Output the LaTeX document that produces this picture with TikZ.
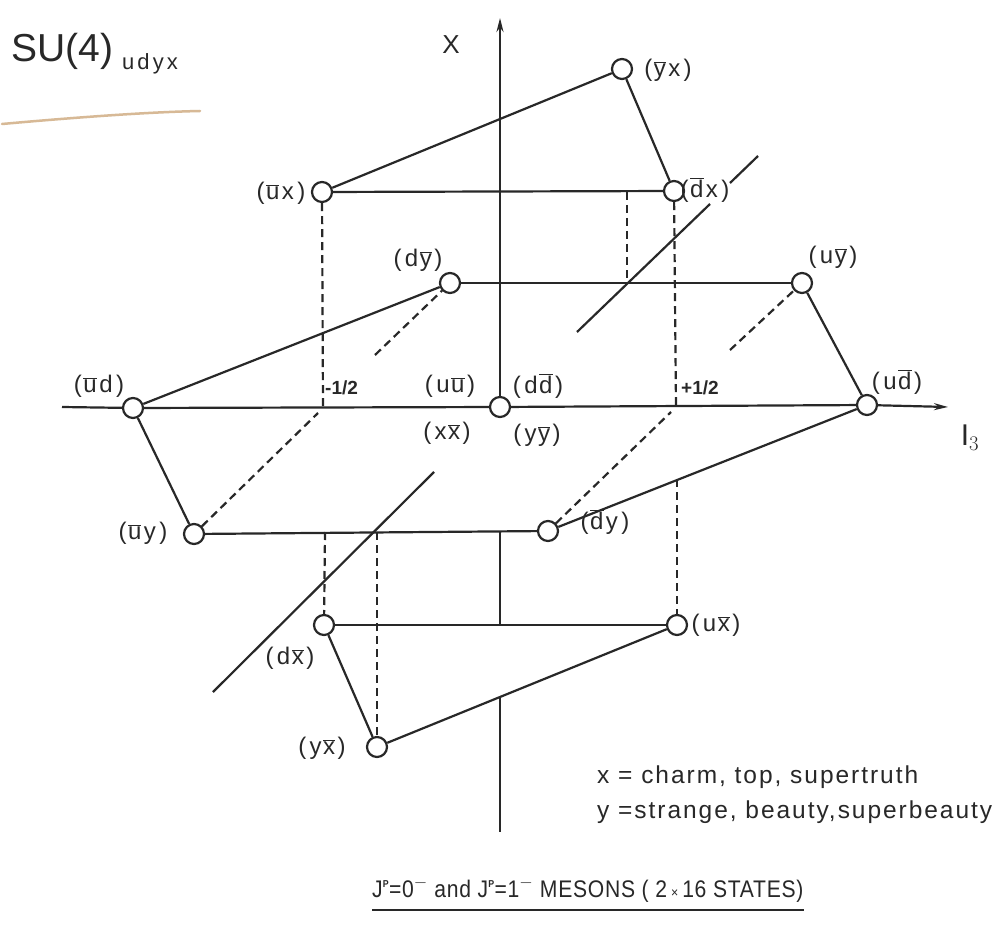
\documentclass[tikz,border=0pt]{standalone}
\usepackage{fontspec}
\setmainfont{Liberation Sans}
\newfontfamily\labfont{Liberation Sans}[LetterSpace=14]
\newfontfamily\legfont{Liberation Sans}[LetterSpace=8]
\newfontfamily\capfont{Liberation Sans}[LetterSpace=3,FakeStretch=0.88]
\usetikzlibrary{arrows.meta}
\newcommand\ob[1]{\kern1.5pt\ensuremath{\overline{\mbox{#1}}}\kern2.5pt}
\definecolor{ink}{RGB}{40,40,40}
\definecolor{pencil}{RGB}{215,185,150}
\begin{document}
\begin{tikzpicture}[x=1pt,y=-1pt,
  pt/.style={circle,draw=ink,line width=2.2pt,minimum size=20pt,inner sep=0pt},
  ln/.style={draw=ink,line width=2.2pt},
  hid/.style={draw=ink,line width=2.2pt,dash pattern=on 8pt off 5pt},
  lab/.style={inner sep=0pt,text=ink,font=\labfont\fontsize{24}{26}\selectfont},
  half/.style={inner sep=0pt,text=ink,font=\bfseries\fontsize{19}{21}\selectfont,anchor=west},
  leg/.style={inner sep=0pt,text=ink,font=\legfont\fontsize{24.5}{27}\selectfont,anchor=base west},
  axarrow/.style={draw=ink,line width=2.2pt,-{Stealth[length=14pt,width=7pt]}}
]
\useasboundingbox (0,0) rectangle (995,925);
\fill[white] (0,0) rectangle (995,925);

% states
\node[pt] (yx)  at (622,69)  {};
\node[pt] (ux)  at (322,192) {};
\node[pt] (dx)  at (674,191) {};
\node[pt] (dy)  at (450,283) {};
\node[pt] (uy)  at (802,283) {};
\node[pt] (ubd) at (133,408) {};
\node[pt] (c)   at (500,407) {};
\node[pt] (udb) at (867,405) {};
\node[pt] (uby) at (194,534) {};
\node[pt] (dby) at (548,531) {};
\node[pt] (dxb) at (324,625) {};
\node[pt] (uxb) at (677,625) {};
\node[pt] (yxb) at (377,747) {};

% helper coordinates
\coordinate (Hl) at (62,407);
\coordinate (Hr) at (948,407);
\coordinate (Vt) at (500,18);
\coordinate (Vb) at (500,832);
\coordinate (v1) at (500,697);
\coordinate (v2) at (500,625);
\coordinate (v3) at (500,532);
\coordinate (M)  at (323,407);
\coordinate (P)  at (676,407);
\coordinate (t1) at (627,192);
\coordinate (t2) at (627,283);
\coordinate (p2) at (677,479);
\coordinate (q1) at (325,532);
\coordinate (q2) at (377,532);
\coordinate (m1) at (318,413);
\coordinate (m2) at (375,355);
\coordinate (p1) at (671,412);
\coordinate (p3) at (730,350);
\coordinate (a1) at (577,332);
\coordinate (a2) at (710,204);
\coordinate (a3) at (730,183);
\coordinate (a4) at (758,156);
\coordinate (b1) at (213,692);
\coordinate (b2) at (434,472);

% axes
\draw[ln] (Hl) -- (ubd) -- (c) -- (udb);
\draw[axarrow] (udb) -- (Hr);
\draw[axarrow] (c) -- (Vt);
\draw[ln] (v3) -- (v2);
\draw[ln] (v1) -- (Vb);

% top plane (x)
\draw[ln] (ux) -- (yx);
\draw[ln] (yx) -- (dx);
\draw[ln] (ux) -- (dx);

% middle plane (y)
\draw[ln] (ubd) -- (dy);
\draw[ln] (dy) -- (uy);
\draw[ln] (uy) -- (udb);
\draw[ln] (ubd) -- (uby);
\draw[ln] (uby) -- (dby);
\draw[ln] (dby) -- (udb);

% bottom plane (xbar)
\draw[ln] (dxb) -- (uxb);
\draw[ln] (dxb) -- (yxb);
\draw[ln] (yxb) -- (uxb);

% oblique lines
\draw[ln] (a1) -- (a2);
\draw[ln] (a3) -- (a4);
\draw[ln] (b1) -- (b2);

% hidden / projection lines
\draw[hid] (ux) -- (M);
\draw[hid] (dx) -- (P);
\draw[hid] (t1) -- (t2);
\draw[hid] (p2) -- (uxb);
\draw[hid] (q1) -- (dxb);
\draw[hid] (q2) -- (yxb);
\draw[hid] (uby) -- (m1);
\draw[hid] (m2) -- (dy);
\draw[hid] (dby) -- (p1);
\draw[hid] (p3) -- (uy);

% labels
\node[lab] (lyx)  at (668,70)  {(\ob{y}x)};
\node[lab] (lux)  at (281,193) {(\ob{u}x)};
\node[lab] (ldx)  at (705,190) {(\ob{d}x)};
\node[lab] (ldy)  at (418,260) {(d\ob{y})};
\node[lab] (luy)  at (833,257) {(u\ob{y})};
\node[lab] (lubd) at (99,386)  {(\ob{u}d)};
\node[lab] (luu)  at (450,386) {(u\ob{u})};
\node[lab] (ldd)  at (538,386) {(d\ob{d})};
\node[lab] (lxx)  at (447,433) {(x\ob{x})};
\node[lab] (lyy)  at (537,435) {(y\ob{y})};
\node[lab] (ludb) at (897,382) {(u\ob{d})};
\node[lab] (luby) at (143,533) {(\ob{u}y)};
\node[lab] (ldby) at (605,522) {(\ob{d}y)};
\node[lab] (ldxb) at (290,658) {(d\ob{x})};
\node[lab] (luxb) at (716,625) {(u\ob{x})};
\node[lab] (lyxb) at (322,748) {(y\ob{x})};
\node[half] (lm) at (325,388) {-1/2};
\node[half] (lp) at (681,388) {+1/2};
\node[inner sep=0pt,text=ink,font=\fontsize{30}{32}\selectfont] (lI3) at (970,438) {$\mathrm{I}_3$};
\node[inner sep=0pt,text=ink,font=\fontsize{26}{28}\selectfont] (lX) at (451,45) {X};

% title
\node[inner sep=0pt,text=ink,anchor=base west,font=\fontsize{39}{41}\selectfont] (title) at (11,62) {SU(4)};
\node[inner sep=0pt,text=ink,anchor=base west,font=\labfont\fontsize{22}{24}\selectfont] (sub) at (122,70) {udyx};
\draw[pencil,line width=2.5pt,line cap=round] (2,124) .. controls (80,117) and (150,112) .. (200,111);

% legend
\node[leg] (leg1) at (597,783) {x = charm, top, supertruth};
\node[leg] (leg2) at (597,818) {y =strange, beauty,superbeauty};

% caption
\node[inner sep=0pt,text=ink,anchor=base west,font=\capfont\fontsize{24}{26}\selectfont] (cap) at (372,897)
  {J$^{\mbox{\fontsize{10}{10}\selectfont\bfseries P}}$=0$^{-}$\ and\ J$^{\mbox{\fontsize{10}{10}\selectfont\bfseries P}}$=1$^{-}$\ MESONS ( 2\,{\fontsize{14}{14}\selectfont ×}\,16 STATES)};
\draw[ink,line width=1.6pt] ([yshift=-8pt]cap.south west) -- ([yshift=-8pt]cap.south east);
\end{tikzpicture}
\end{document}
